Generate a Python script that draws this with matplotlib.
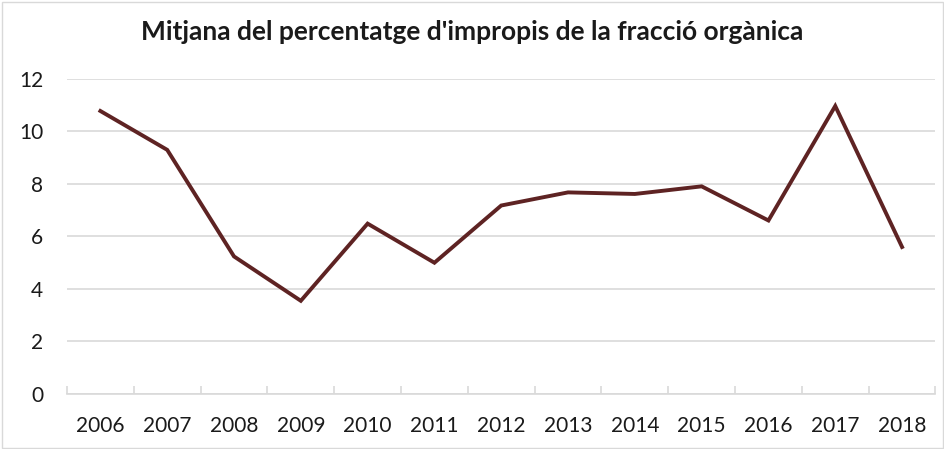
import matplotlib.pyplot as plt
from matplotlib.patches import Rectangle

# Data
years = ['2006', '2007', '2008', '2009', '2010', '2011', '2012',
         '2013', '2014', '2015', '2016', '2017', '2018']
impropis = [10.78, 9.30, 5.24, 3.55, 6.49, 5.00, 7.18,
            7.68, 7.62, 7.91, 6.61, 10.97, 5.60]
y_ticks = [0, 2, 4, 6, 8, 10, 12]

plt.rcParams['font.family'] = ['Lato', 'DejaVu Sans']

fig = plt.figure(figsize=(9.45, 4.49), dpi=100)
ax = fig.add_axes([0.0709, 0.1225, 0.919, 0.7016])

x = range(len(years))
ax.plot(x, impropis, color='#5e2323', linewidth=2.8, solid_joinstyle='miter')

ax.set_xlim(-0.5, len(years) - 0.5)
ax.set_ylim(0, 12)
ax.set_yticks(y_ticks)
ax.set_yticklabels([str(v) for v in y_ticks], fontsize=15, color='#1a1a1a')
ax.set_xticks(list(x))
ax.set_xticklabels(years, fontsize=15, color='#1a1a1a')

# gridlines like Excel
ax.grid(axis='y', color='#d9d9d9', linewidth=1.2)
ax.set_axisbelow(True)
for side in ['top', 'right', 'left']:
    ax.spines[side].set_visible(False)
ax.spines['bottom'].set_color('#d9d9d9')
ax.spines['bottom'].set_linewidth(1.2)

ax.tick_params(axis='y', length=0, pad=17)
ax.tick_params(axis='x', which='major', length=0, pad=16)
# category separators on x axis
ax.set_xticks([i - 0.5 for i in range(len(years) + 1)], minor=True)
ax.tick_params(axis='x', which='minor', direction='in', length=6,
               color='#d9d9d9', width=1.2)

fig.suptitle("Mitjana del percentatge d'impropis de la fracció orgànica",
             x=0.5, y=0.955, fontsize=19, fontweight='bold', color='#1a1a1a')

# light frame around the chart
fig.patches.append(Rectangle((0.002, 0.002), 0.996, 0.994, transform=fig.transFigure,
                             fill=False, edgecolor='#d9d9d9', linewidth=1))

fig.savefig('out.png', dpi=100)
